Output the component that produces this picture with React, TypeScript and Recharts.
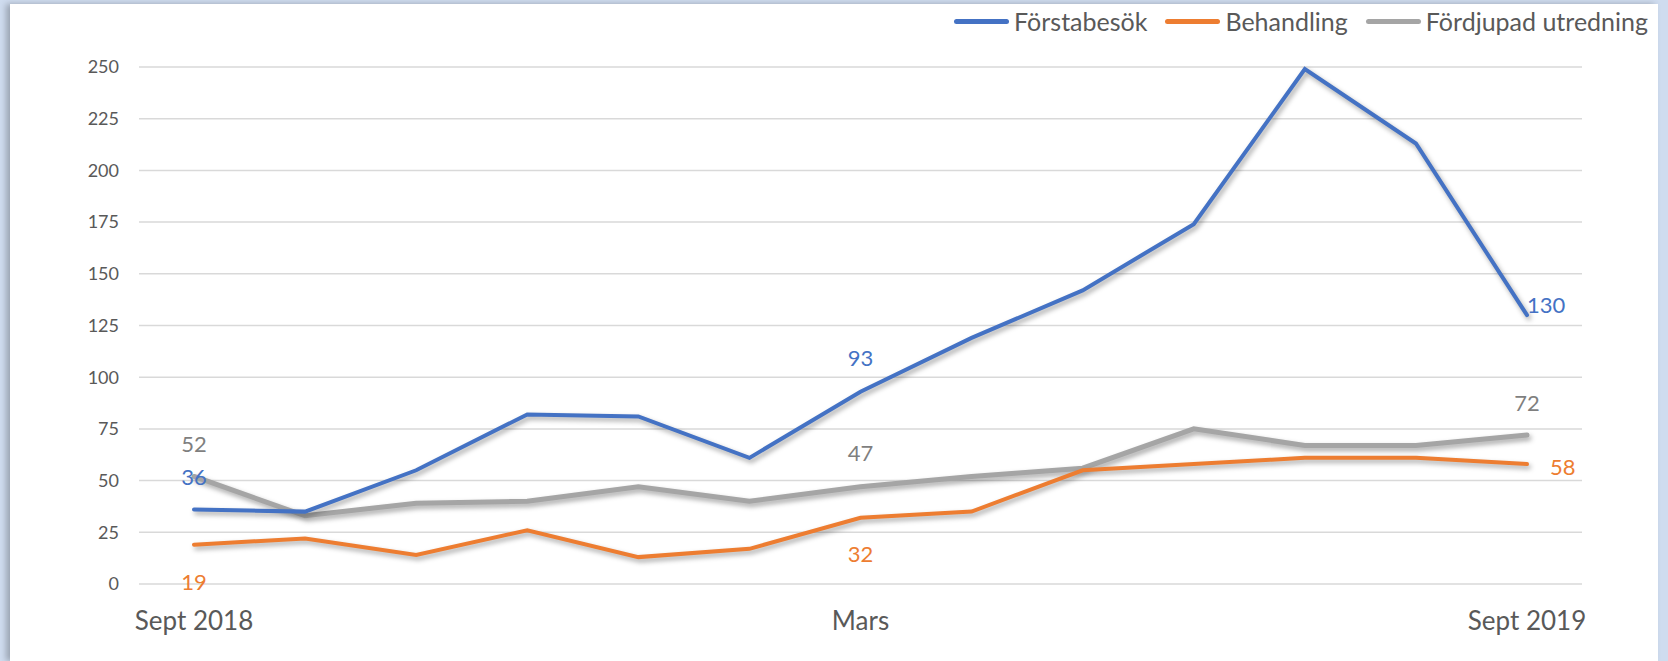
import React from "react";
import { LineChart, Line, XAxis, YAxis, CartesianGrid, LabelList } from "recharts";

// månader sept 2018 – sept 2019
const months = [
  "Sept 2018", "Okt", "Nov", "Dec", "Jan", "Feb", "Mars",
  "Apr", "Maj", "Jun", "Jul", "Aug", "Sept 2019",
];
const forstabesok = [36, 35, 55, 82, 81, 61, 93, 119, 142, 174, 249, 213, 130];
const behandling = [19, 22, 14, 26, 13, 17, 32, 35, 55, 58, 61, 61, 58];
const fordjupad = [52, 33, 39, 40, 47, 40, 47, 52, 56, 75, 67, 67, 72];
const yTicks = [0, 25, 50, 75, 100, 125, 150, 175, 200, 225, 250];

const FONT = "Lato, 'Open Sans', sans-serif";
const BLUE = "#4472C4";
const ORANGE = "#ED7D31";
const GRAY = "#A5A5A5";

const series = [
  { key: "forstabesok", name: "Förstabesök", color: BLUE },
  { key: "behandling", name: "Behandling", color: ORANGE },
  { key: "fordjupad", name: "Fördjupad utredning", color: GRAY },
];

const data = months.map((m, i) => ({
  month: m,
  forstabesok: forstabesok[i],
  behandling: behandling[i],
  fordjupad: fordjupad[i],
}));

type Place = [number, number, "middle" | "start"];

// where each shown value label goes, relative to its point
const bluePlaces: Record<number, Place> = { 0: [0, -33, "middle"], 6: [0, -34, "middle"], 12: [0, -11, "start"] };
const orangePlaces: Record<number, Place> = { 0: [0, 37, "middle"], 6: [0, 36, "middle"], 12: [23, 2, "start"] };
const grayPlaces: Record<number, Place> = { 0: [0, -33, "middle"], 6: [0, -34, "middle"], 12: [0, -33, "middle"] };

const makeLabel = (color: string, places: Record<number, Place>) => (props: any) => {
  const { x, y, value, index } = props;
  const p = places[index];
  if (!p) return null;
  return (
    <text
      x={x + p[0]}
      y={y + p[1]}
      fill={color}
      fontSize={22}
      fontFamily={FONT}
      textAnchor={p[2]}
      dominantBaseline="central"
    >
      {value}
    </text>
  );
};

function LegendRow() {
  return (
    <div
      style={{
        position: "absolute",
        top: 9,
        right: 20,
        display: "flex",
        alignItems: "center",
        fontFamily: FONT,
        fontSize: 25,
        lineHeight: "25px",
        color: "#595959",
      }}
    >
      {series.map((s, i) => (
        <div key={s.key} style={{ display: "flex", alignItems: "center", marginLeft: i ? 18 : 0 }}>
          <span style={{ width: 55, height: 4.5, borderRadius: 3, background: s.color, marginRight: 5 }} />
          <span>{s.name}</span>
        </div>
      ))}
    </div>
  );
}

export default function App() {
  return (
    <div style={{ position: "absolute", left: 0, top: 0, width: 1668, height: 661, background: "#cfdcef", overflow: "hidden" }}>
      <style>{`.recharts-line-curve { filter: drop-shadow(2px 3px 2.5px rgba(0,0,0,0.35)); }`}</style>
      <div
        style={{
          position: "absolute",
          left: 10,
          top: 4,
          width: 1648,
          height: 657,
          background: "#fff",
          boxShadow: "-4px 0 6px rgba(0,0,0,0.25)",
        }}
      />
      <div style={{ position: "absolute", left: 0, top: 0 }}>
        <LineChart width={1668} height={661} data={data} margin={{ top: 67, right: 86, bottom: 0, left: 0 }}>
          <CartesianGrid vertical={false} stroke="#d9d9d9" strokeWidth={1.5} />
          <XAxis
            dataKey="month"
            interval={5}
            padding={{ left: 55, right: 55 }}
            height={77}
            axisLine={false}
            tickLine={false}
            tickMargin={22}
            tick={{ fontSize: 26, fill: "#595959", fontFamily: FONT }}
          />
          <YAxis
            domain={[0, 250]}
            ticks={yTicks}
            width={139}
            axisLine={false}
            tickLine={false}
            tickMargin={14}
            tick={{ fontSize: 18, fill: "#595959", fontFamily: FONT }}
          />
          <Line
            dataKey="fordjupad"
            name="Fördjupad utredning"
            stroke={GRAY}
            strokeWidth={5}
            strokeLinecap="round"
            dot={false}
            activeDot={false}
            isAnimationActive={false}
          >
            <LabelList dataKey="fordjupad" content={makeLabel("#7F7F7F", grayPlaces)} />
          </Line>
          <Line
            dataKey="behandling"
            name="Behandling"
            stroke={ORANGE}
            strokeWidth={4}
            strokeLinecap="round"
            dot={false}
            activeDot={false}
            isAnimationActive={false}
          >
            <LabelList dataKey="behandling" content={makeLabel(ORANGE, orangePlaces)} />
          </Line>
          <Line
            dataKey="forstabesok"
            name="Förstabesök"
            stroke={BLUE}
            strokeWidth={4}
            strokeLinecap="round"
            dot={false}
            activeDot={false}
            isAnimationActive={false}
          >
            <LabelList dataKey="forstabesok" content={makeLabel(BLUE, bluePlaces)} />
          </Line>
        </LineChart>
      </div>
      <LegendRow />
    </div>
  );
}
